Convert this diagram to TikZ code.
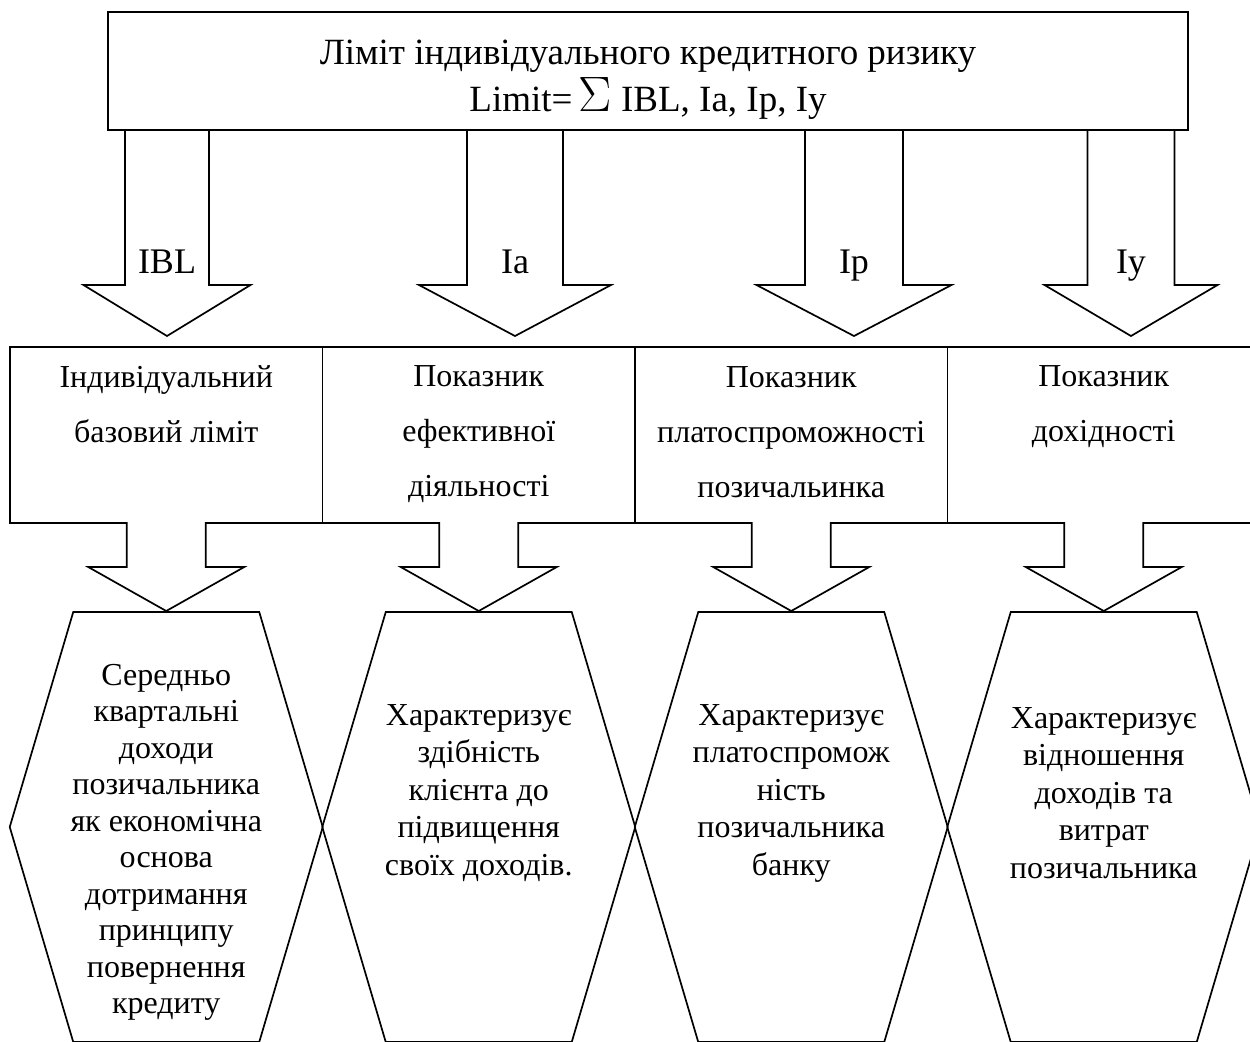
\documentclass[tikz,border=0pt]{standalone}
\usepackage{fontspec}
\setmainfont{Liberation Serif}
\usetikzlibrary{positioning}

\begin{document}
\begin{tikzpicture}[x=0.5pt,y=-0.5pt]
    % Define styles
    \tikzset{
        limitbox/.style={rectangle, draw, line width=1.2pt, minimum width=540pt, minimum height=59pt},
        limittext/.style={align=center, inner sep=0pt, font=\fontsize{18.5}{23.5}\selectfont},
        indexbox/.style={rectangle, draw, line width=0.85pt, minimum width=156.25pt, minimum height=88pt},
        indextext/.style={align=center, inner sep=0pt, font=\fontsize{16}{27.5}\selectfont},
        hextext/.style={align=center, inner sep=0pt, font=\fontsize{16}{18.25}\selectfont},
        arrowlabel/.style={inner sep=0pt, font=\fontsize{18}{18}\selectfont},
        blockarrow/.style={draw, line width=0.85pt, line join=miter},
        hexshape/.style={draw, line width=0.85pt, line join=miter}
    }

    % Frame
    \useasboundingbox (0,0) rectangle (1250,1041);
    \clip (0,0) rectangle (1250,1041);

    % Nodes
    \node[limitbox] (limit) at (648,71) {};
    \node[limittext] (limit_text) at (648,80) {Ліміт індивідуального кредитного ризику\\Limit=\,{\fontsize{24}{24}\selectfont$\Sigma$} IBL, Ia, Ip, Iy};

    \node[indexbox] (ibl_box) at (166.25,435) {};
    \node[indexbox] (ia_box) at (478.75,435) {};
    \node[indexbox] (ip_box) at (791.25,435) {};
    \node[indexbox] (iy_box) at (1103.75,435) {};

    \node[indextext] (ibl_text) at (166.25,404.5) {Індивідуальний\\базовий ліміт};
    \node[indextext] (ia_text) at (478.75,434.5) {Показник\\ефективної\\діяльності};
    \node[indextext] (ip_text) at (791.25,432) {Показник\\платоспроможності\\позичальинка};
    \node[indextext] (iy_text) at (1103.75,407) {Показник\\дохідності};

    % Arrows from the limit to the indices
    \foreach \cx/\sw/\hw/\name/\txt in {167/42/83.5/ibl/IBL, 515/48/96/ia/Ia, 854/49/97.5/ip/Ip, 1131/43.5/86.5/iy/Iy} {
        \draw[blockarrow] ({\cx-\sw},130) -- ({\cx-\sw},285) -- ({\cx-\hw},285) -- (\cx,336) -- ({\cx+\hw},285) -- ({\cx+\sw},285) -- ({\cx+\sw},130);
        \node[arrowlabel, anchor=base] (\name_arrow) at (\cx,273) {\txt};
    }

    % Arrows from the indices to the descriptions
    \foreach \cx in {166.25, 478.75, 791.25, 1103.75}
        \draw[blockarrow, fill=white] ({\cx-39.5},522) -- ({\cx-39.5},567) -- ({\cx-78},567) -- (\cx,611) -- ({\cx+78},567) -- ({\cx+39.5},567) -- ({\cx+39.5},522);

    % Hexagons
    \foreach \cx in {166.25, 478.75, 791.25, 1103.75}
        \draw[hexshape] ({\cx-93},612) -- ({\cx+93},612) -- ({\cx+156.5},827) -- ({\cx+93},1042) -- ({\cx-93},1042) -- ({\cx-156.5},827) -- cycle;

    \node[hextext] (ibl_desc) at (166.25,842.5) {Середньо\\квартальні\\доходи\\позичальника\\як економічна\\основа\\дотримання\\принципу\\повернення\\кредиту};
    \node[hextext, font=\fontsize{16}{18.75}\selectfont] (ia_desc) at (478.75,793) {Характеризує\\здібність\\клієнта до\\підвищення\\своїх доходів.};
    \node[hextext, font=\fontsize{16}{18.75}\selectfont] (ip_desc) at (791.25,793) {Характеризує\\платоспромож\\ність\\позичальника\\банку};
    \node[hextext, font=\fontsize{16}{18.75}\selectfont] (iy_desc) at (1103.75,793) {Характеризує\\відношення\\доходів та\\витрат\\позичальника};
\end{tikzpicture}
\end{document}
